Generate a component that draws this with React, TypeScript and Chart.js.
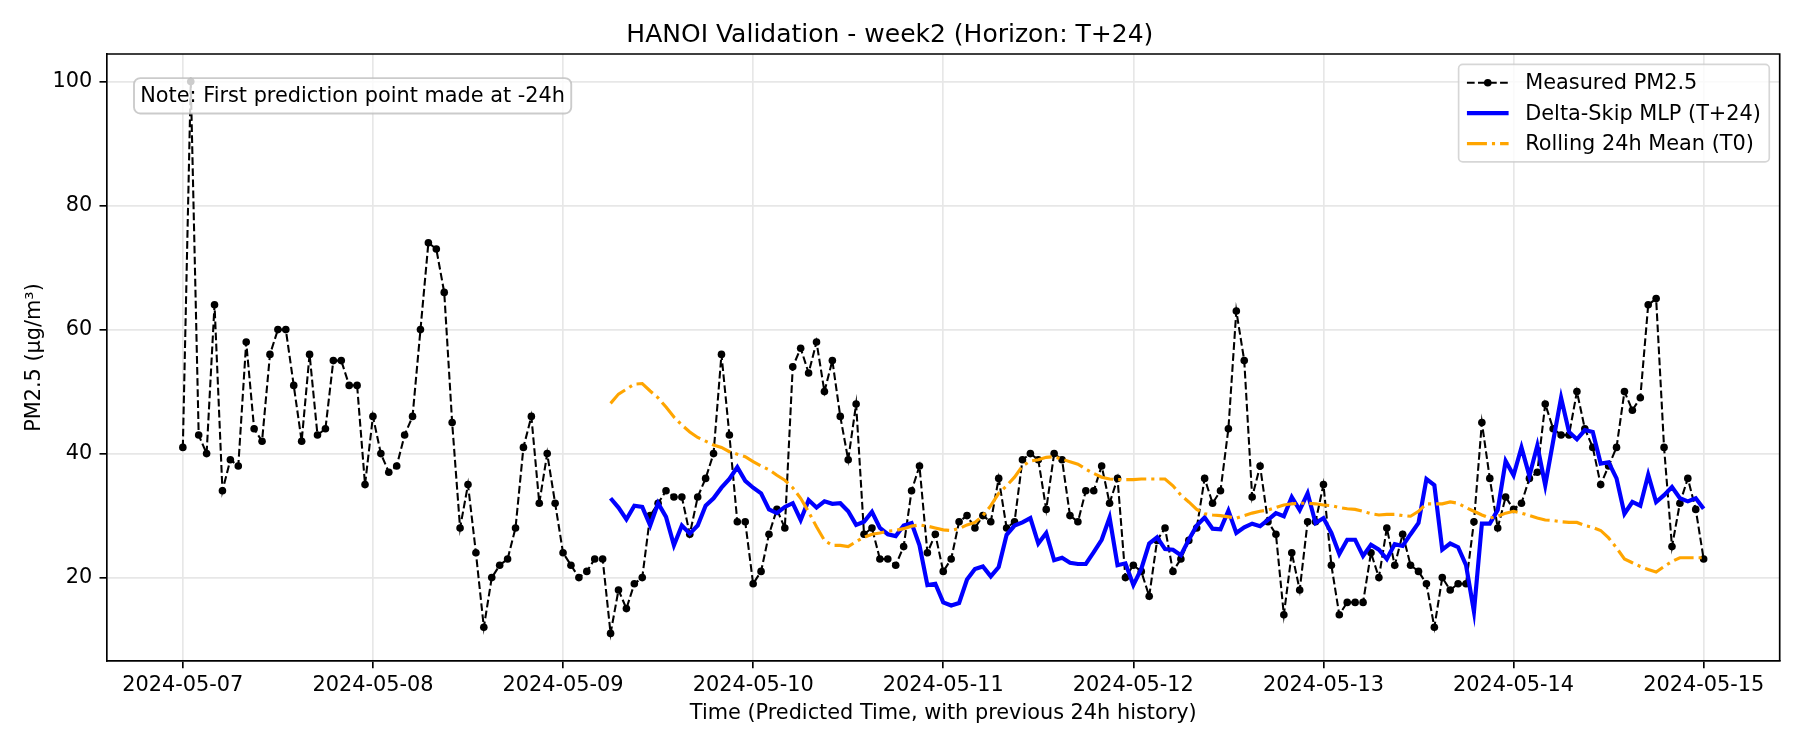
import React, { useEffect, useRef } from 'react';
import { Chart, registerables } from 'chart.js';

Chart.register(...registerables);

// ---------- data ----------
const chartTitle = 'HANOI Validation - week2 (Horizon: T+24)';
const xAxisTitle = 'Time (Predicted Time, with previous 24h history)';
const yAxisTitle = 'PM2.5 (µg/m³)';
const noteText = 'Note: First prediction point made at -24h';

const dayLabels = [
  '2024-05-07', '2024-05-08', '2024-05-09', '2024-05-10', '2024-05-11',
  '2024-05-12', '2024-05-13', '2024-05-14', '2024-05-15',
];
const hoursPerDay = 24;
const yTickValues = [20, 40, 60, 80, 100];

const seriesNames = ['Measured PM2.5', 'Delta-Skip MLP (T+24)', 'Rolling 24h Mean (T0)'];

// hourly, starting 2024-05-07 00:00
const measuredPM25 = [
  41, 100, 43, 40, 64, 34, 39, 38, 58, 44, 42, 56, 60, 60, 51, 42, 56, 43, 44, 55, 55, 51, 51, 35,
  46, 40, 37, 38, 43, 46, 60, 74, 73, 66, 45, 28, 35, 24, 12, 20, 22, 23, 28, 41, 46, 32, 40, 32,
  24, 22, 20, 21, 23, 23, 11, 18, 15, 19, 20, 30, 32, 34, 33, 33, 27, 33, 36, 40, 56, 43, 29, 29,
  19, 21, 27, 31, 28, 54, 57, 53, 58, 50, 55, 46, 39, 48, 27, 28, 23, 23, 22, 25, 34, 38, 24, 27,
  21, 23, 29, 30, 28, 30, 29, 36, 28, 29, 39, 40, 39, 31, 40, 39, 30, 29, 34, 34, 38, 32, 36, 20,
  22, 21, 17, 26, 28, 21, 23, 26, 28, 36, 32, 34, 44, 63, 55, 33, 38, 29, 27, 14, 24, 18, 29, 29,
  35, 22, 14, 16, 16, 16, 24, 20, 28, 22, 27, 22, 21, 19, 12, 20, 18, 19, 19, 29, 45, 36, 28, 33,
  31, 32, 36, 37, 48, 44, 43, 43, 50, 44, 41, 35, 38, 41, 50, 47, 49, 64, 65, 41, 25, 32, 36, 31,
  23,
];

// first prediction hour index (2024-05-09 06:00)
const predictionStartHour = 54;

const deltaSkipMLP = [
  32.8, 31.3, 29.4, 31.6, 31.4, 28.4, 32.0, 29.8, 25.2, 28.4, 27.1, 28.4, 31.6, 32.8, 34.5, 35.9, 37.8, 35.6,
  34.5, 33.6, 31.0, 30.4, 31.4, 32.0, 29.3, 32.5, 31.3, 32.3, 31.9, 32.0, 30.7, 28.5, 29.0, 30.6, 28.0, 27.0,
  26.7, 28.4, 28.8, 25.2, 18.8, 19.0,
  16.0, 15.5, 15.9, 19.7, 21.4, 21.8, 20.2, 21.7, 26.9, 28.4, 28.9, 29.6, 25.5, 27.2, 22.8, 23.2, 22.4, 22.2,
  22.2, 24.1, 26.1, 29.7, 22.0, 22.3,
  18.8, 21.4, 25.5, 26.5, 24.6, 24.5, 23.6, 26.1, 28.4, 29.7, 27.9, 27.8, 30.8, 27.2, 28.1, 28.7, 28.3, 29.3,
  30.4, 29.9, 33.0, 30.9, 33.6, 28.8,
  29.6, 27.2, 23.8, 26.1, 26.1, 23.5, 25.3, 24.5, 23.0, 25.4, 25.1, 27.0, 28.8, 35.9, 34.9, 24.5, 25.5, 24.9,
  22.0, 14.5, 28.7, 28.7, 30.9, 38.8,
  36.5, 41.0, 36.4, 41.3, 34.9, 42.0, 49.0, 43.5, 42.3, 43.8, 43.5, 38.4, 38.6, 36.0, 30.3, 32.2, 31.6, 36.6,
  32.2, 33.3, 34.6, 32.8, 32.3, 32.8,
  31.1,
];

const rolling24hMean = [
  48.1, 49.6, 50.4, 51.2, 51.3, 50.1, 49.0, 47.5, 45.9, 44.6, 43.5, 42.6, 42.0, 41.4, 41.0, 40.3, 39.9, 39.5,
  38.7, 38.0, 37.4, 36.5, 35.7, 34.5, 32.8, 30.6, 28.2, 26.0, 25.2, 25.2, 25.0, 25.8, 26.5, 27.0, 27.2, 27.5,
  27.6, 27.9, 28.3, 28.5, 28.3, 28.0,
  27.7, 27.6, 27.9, 28.5, 28.9, 30.0, 31.6, 33.6, 34.8, 36.2, 38.0, 38.8, 39.0, 39.4, 39.5, 39.1, 38.7, 38.3,
  37.5, 36.8, 36.2, 35.9, 35.8, 35.8,
  35.8, 35.9, 35.9, 35.9, 35.9, 34.8, 33.3, 32.2, 31.0, 30.3, 30.1, 30.0, 29.8, 29.6, 30.0, 30.4, 30.7, 30.9,
  31.3, 31.7, 31.9, 32.0, 32.0, 31.9,
  31.7, 31.6, 31.3, 31.1, 31.0, 30.7, 30.3, 30.1, 30.2, 30.2, 30.0, 29.9, 30.7, 31.9, 31.9, 31.9, 32.2, 32.0,
  31.3, 30.7, 30.1, 29.6, 29.9, 30.4,
  30.7, 30.4, 30.0, 29.6, 29.3, 29.2, 29.0, 28.9, 28.9, 28.4, 28.1, 27.6, 26.4, 24.8, 23.0, 22.4, 21.8, 21.3,
  20.9, 21.8, 22.6, 23.2, 23.2, 23.2,
  23.2,
];

// ---------- styling ----------
const PT = 150 / 72; // px per point (figure at 150 dpi)
const FONT_FAMILY = '"DejaVu Sans", "Liberation Sans", sans-serif';
const FS = 10 * PT;
const BLACK = '#000000';
const BLUE = '#0000ff';
const ORANGE = '#ffa500';
const GRID = '#e7e7e7';

const measuredDash = [3.7 * PT, 1.6 * PT];
const rollingDash = [9.6 * PT, 2.4 * PT, 1.5 * PT, 2.4 * PT];

function roundRectPath(ctx: CanvasRenderingContext2D, x: number, y: number, w: number, h: number, r: number) {
  ctx.beginPath();
  ctx.moveTo(x + r, y);
  ctx.lineTo(x + w - r, y);
  ctx.arcTo(x + w, y, x + w, y + r, r);
  ctx.lineTo(x + w, y + h - r);
  ctx.arcTo(x + w, y + h, x + w - r, y + h, r);
  ctx.lineTo(x + r, y + h);
  ctx.arcTo(x, y + h, x, y + h - r, r);
  ctx.lineTo(x, y + r);
  ctx.arcTo(x, y, x + r, y, r);
  ctx.closePath();
}

const framePlugin = {
  id: 'frameAndOverlays',
  afterDraw(chart: any) {
    const ctx: CanvasRenderingContext2D = chart.ctx;
    const { left, right, top, bottom } = chart.chartArea;
    ctx.save();
    // spines (top/right)
    ctx.strokeStyle = BLACK;
    ctx.lineWidth = 0.8 * PT;
    ctx.beginPath();
    ctx.moveTo(left, top);
    ctx.lineTo(right, top);
    ctx.lineTo(right, bottom);
    ctx.stroke();

    // note box
    ctx.font = `${FS}px ${FONT_FAMILY}`;
    const pad = 0.3 * FS;
    const textW = ctx.measureText(noteText).width;
    const tx = left + 0.02 * (right - left);
    const tTop = bottom - 0.95 * (bottom - top);
    const textH = 1.1 * FS;
    roundRectPath(ctx, tx - pad, tTop - pad, textW + 2 * pad, textH + 2 * pad, pad);
    ctx.fillStyle = 'rgba(255,255,255,0.8)';
    ctx.fill();
    ctx.strokeStyle = 'rgba(190,190,190,0.8)';
    ctx.lineWidth = 1.2 * PT * 0.75;
    ctx.stroke();
    ctx.fillStyle = BLACK;
    ctx.textBaseline = 'middle';
    ctx.textAlign = 'left';
    ctx.fillText(noteText, tx, tTop + textH / 2 + 1);

    // legend
    const bp = 0.4 * FS;
    const hl = 2.0 * FS;
    const htp = 0.8 * FS;
    const ls = 0.5 * FS;
    const rowH = 0.96 * FS;
    const maxW = Math.max(...seriesNames.map((n) => ctx.measureText(n).width));
    const boxW = bp * 2 + hl + htp + maxW;
    const boxH = bp * 2 + rowH * 3 + ls * 2;
    const boxRight = right - 0.5 * FS;
    const boxTop = top + 0.5 * FS;
    const boxLeft = boxRight - boxW;
    roundRectPath(ctx, boxLeft, boxTop, boxW, boxH, 0.2 * FS);
    ctx.fillStyle = 'rgba(255,255,255,0.8)';
    ctx.fill();
    ctx.strokeStyle = 'rgba(204,204,204,0.8)';
    ctx.lineWidth = 1 * PT * 0.8;
    ctx.stroke();

    const hx0 = boxLeft + bp;
    const hx1 = hx0 + hl;
    seriesNames.forEach((name, i) => {
      const cy = boxTop + bp + rowH / 2 + i * (rowH + ls);
      ctx.save();
      ctx.lineCap = 'butt';
      if (i === 0) {
        ctx.strokeStyle = BLACK;
        ctx.lineWidth = 1 * PT;
        ctx.setLineDash(measuredDash);
      } else if (i === 1) {
        ctx.strokeStyle = BLUE;
        ctx.lineWidth = 2 * PT;
        ctx.setLineDash([]);
      } else {
        ctx.strokeStyle = ORANGE;
        ctx.lineWidth = 1.5 * PT;
        ctx.setLineDash(rollingDash);
      }
      ctx.beginPath();
      ctx.moveTo(hx0, cy);
      ctx.lineTo(hx1, cy);
      ctx.stroke();
      if (i === 0) {
        ctx.setLineDash([]);
        ctx.fillStyle = BLACK;
        ctx.beginPath();
        ctx.arc((hx0 + hx1) / 2, cy, 3.8, 0, Math.PI * 2);
        ctx.fill();
      }
      ctx.restore();
      ctx.fillStyle = BLACK;
      ctx.textBaseline = 'middle';
      ctx.textAlign = 'left';
      ctx.fillText(name, hx1 + htp, cy + 1);
    });
    ctx.restore();
  },
};

export default function App() {
  const canvasRef = useRef<HTMLCanvasElement | null>(null);

  useEffect(() => {
    document.body.style.margin = '0';
    const canvas = canvasRef.current;
    if (!canvas) return;

    const lastHour = (dayLabels.length - 1) * hoursPerDay;
    const xMargin = lastHour * 0.05;
    const yAll = [...measuredPM25, ...deltaSkipMLP, ...rolling24hMean];
    const yMin = Math.min(...yAll);
    const yMax = Math.max(...yAll);
    const yMargin = (yMax - yMin) * 0.05;

    const tickFont = { family: FONT_FAMILY, size: FS, weight: 'normal' as const };

    const chart = new Chart(canvas, {
      type: 'line',
      data: {
        datasets: [
          {
            label: seriesNames[0],
            data: measuredPM25.map((v, i) => ({ x: i, y: v })),
            borderColor: BLACK,
            backgroundColor: BLACK,
            borderWidth: 1 * PT,
            borderDash: measuredDash,
            pointRadius: 3.8,
            pointBackgroundColor: BLACK,
            pointBorderWidth: 0,
            pointHoverRadius: 3.8,
            tension: 0,
            fill: false,
            order: 3,
          },
          {
            label: seriesNames[1],
            data: deltaSkipMLP.map((v, i) => ({ x: predictionStartHour + i, y: v })),
            borderColor: BLUE,
            backgroundColor: BLUE,
            borderWidth: 2 * PT,
            pointRadius: 0,
            pointHoverRadius: 0,
            tension: 0,
            fill: false,
            order: 2,
          },
          {
            label: seriesNames[2],
            data: rolling24hMean.map((v, i) => ({ x: predictionStartHour + i, y: v })),
            borderColor: ORANGE,
            backgroundColor: ORANGE,
            borderWidth: 1.5 * PT,
            borderDash: rollingDash,
            pointRadius: 0,
            pointHoverRadius: 0,
            tension: 0,
            fill: false,
            order: 1,
          },
        ],
      },
      options: {
        animation: false,
        responsive: false,
        maintainAspectRatio: false,
        devicePixelRatio: 1,
        events: [],
        layout: { padding: { left: 0, right: 20.3, top: 0, bottom: 0 }, autoPadding: false },
        plugins: {
          legend: { display: false },
          tooltip: { enabled: false },
          title: {
            display: true,
            text: chartTitle,
            color: BLACK,
            font: { family: FONT_FAMILY, size: 12 * PT, weight: 'normal' },
            padding: { top: 20.6, bottom: 3.4 },
          },
        },
        scales: {
          x: {
            type: 'linear',
            min: -xMargin,
            max: lastHour + xMargin,
            afterBuildTicks: (s: any) => {
              s.ticks = dayLabels.map((_, i) => ({ value: i * hoursPerDay }));
            },
            afterFit: (s: any) => {
              s.height = 89;
            },
            ticks: {
              autoSkip: false,
              maxRotation: 0,
              minRotation: 0,
              color: BLACK,
              font: tickFont,
              padding: 5,
              callback: (v: any) => dayLabels[Math.round(Number(v) / hoursPerDay)] ?? '',
            },
            grid: {
              color: GRID,
              lineWidth: 0.8 * PT,
              tickColor: BLACK,
              tickLength: 3.5 * PT,
              tickWidth: 0.8 * PT,
            },
            border: { display: true, color: BLACK, width: 0.8 * PT },
            title: {
              display: true,
              text: xAxisTitle,
              color: BLACK,
              font: tickFont,
              padding: { top: 0, bottom: 23.5 },
            },
          },
          y: {
            type: 'linear',
            min: yMin - yMargin,
            max: yMax + yMargin,
            afterBuildTicks: (s: any) => {
              s.ticks = yTickValues.map((v) => ({ value: v }));
            },
            afterFit: (s: any) => {
              s.width = 106.8;
            },
            ticks: {
              color: BLACK,
              font: tickFont,
              padding: 7.3,
              callback: (v: any) => String(v),
            },
            grid: {
              color: GRID,
              lineWidth: 0.8 * PT,
              tickColor: BLACK,
              tickLength: 3.5 * PT,
              tickWidth: 0.8 * PT,
            },
            border: { display: true, color: BLACK, width: 0.8 * PT },
            title: {
              display: true,
              text: yAxisTitle,
              color: BLACK,
              font: tickFont,
              padding: { top: 21.9, bottom: 0 },
            },
          },
        },
      } as any,
      plugins: [framePlugin],
    });

    return () => {
      chart.destroy();
    };
  }, []);

  return (
    <div style={{ width: 1800, height: 750, position: 'relative' }}>
      <canvas ref={canvasRef} width={1800} height={750} style={{ display: 'block', width: 1800, height: 750 }} />
    </div>
  );
}
